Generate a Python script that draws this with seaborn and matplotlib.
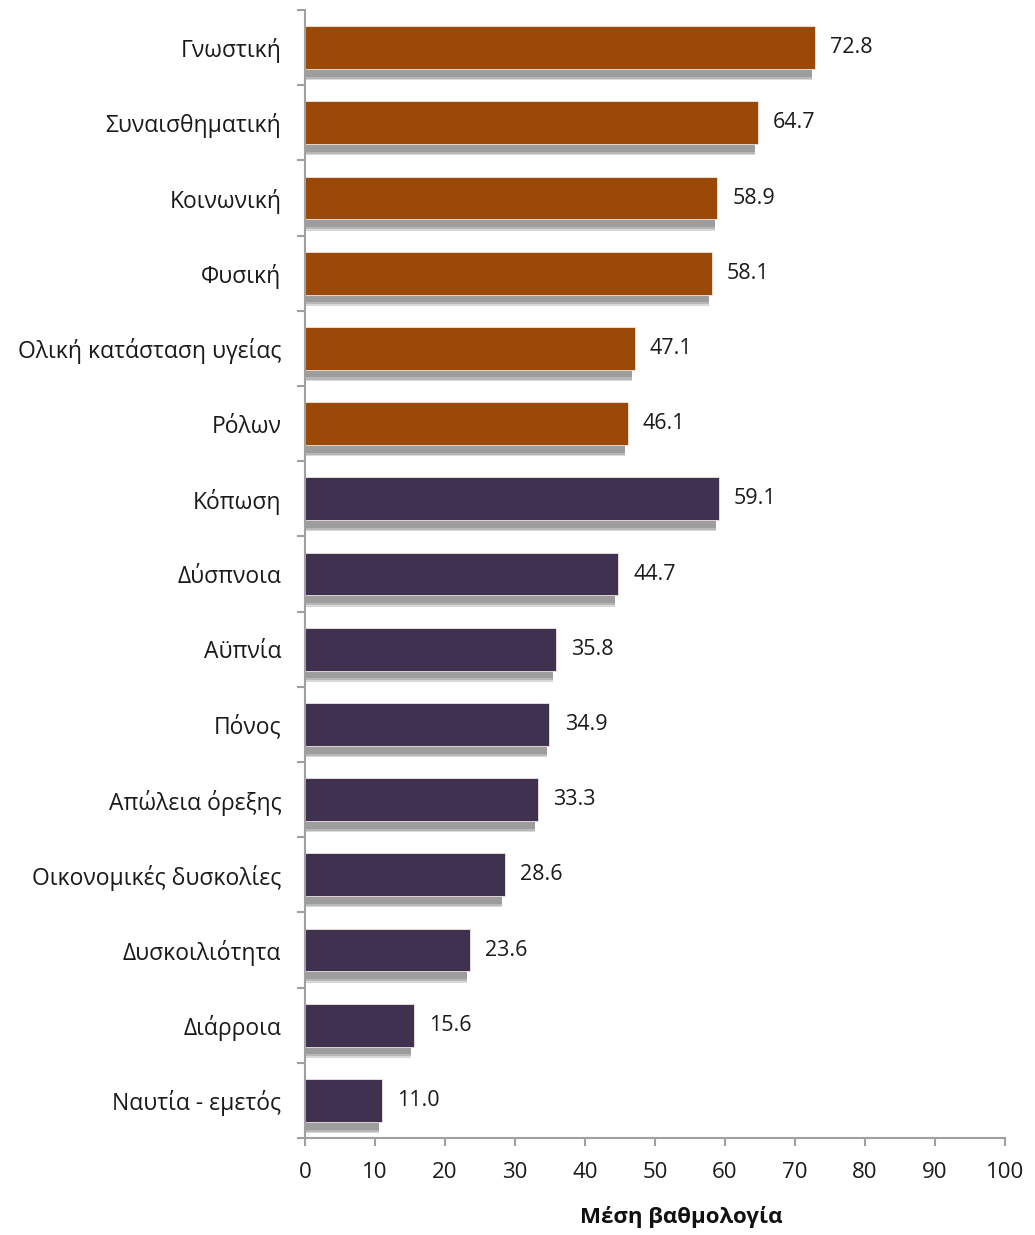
import matplotlib
matplotlib.use("Agg")
import matplotlib.pyplot as plt
import matplotlib.patheffects as pe
import seaborn as sns
import pandas as pd
import numpy as np

categories = ["Γνωστική", "Συναισθηματική", "Κοινωνική", "Φυσική",
              "Ολική κατάσταση υγείας", "Ρόλων", "Κόπωση", "Δύσπνοια",
              "Αϋπνία", "Πόνος", "Απώλεια όρεξης", "Οικονομικές δυσκολίες",
              "Δυσκοιλιότητα", "Διάρροια", "Ναυτία - εμετός"]
values = [72.8, 64.7, 58.9, 58.1, 47.1, 46.1, 59.1, 44.7, 35.8, 34.9,
          33.3, 28.6, 23.6, 15.6, 11.0]
groups = ["func"] * 6 + ["symp"] * 9
xticks = [0, 10, 20, 30, 40, 50, 60, 70, 80, 90, 100]
xlabel = "Μέση βαθμολογία"

df = pd.DataFrame({"cat": categories, "val": values, "grp": groups})

sns.set_style("white")
plt.rcParams["font.family"] = ["Open Sans", "DejaVu Sans"]

fig = plt.figure(figsize=(10.35, 12.35), dpi=100)
ax = fig.add_axes([0.2947, 0.0785, 0.6763, 0.9134])

palette = {"func": "#9A4906", "symp": "#403151"}
sns.barplot(data=df, y="cat", x="val", hue="grp", palette=palette,
            orient="h", dodge=False, width=0.57, legend=False, ax=ax,
            edgecolor="#f2e6e0", linewidth=0.6, saturation=1)

shadow = [pe.SimplePatchShadow(offset=(-2, -8), shadow_rgbFace="#d4d4d4", alpha=0.9),
          pe.SimplePatchShadow(offset=(-2, -7), shadow_rgbFace="#b4b4b4", alpha=0.9),
          pe.SimplePatchShadow(offset=(-2, -5.5), shadow_rgbFace="#9c9c9c", alpha=0.95),
          pe.Normal()]
for p in ax.patches:
    p.set_path_effects(shadow)

for c in ax.containers:
    ax.bar_label(c, fmt="%.1f", padding=11, fontsize=15.5, color="#1a1a1a")

ax.set_xlim(0, 100)
ax.set_ylim(len(categories) - 0.5, -0.5)
ax.set_xticks(xticks)
ax.set_xticklabels([str(t) for t in xticks], fontsize=16, color="#1a1a1a")
ax.set_yticks(np.arange(len(categories)))
ax.set_yticklabels(categories, fontsize=16.5, color="#1a1a1a")
ax.set_yticks(np.arange(-0.5, len(categories)), minor=True)
ax.tick_params(axis="y", which="major", left=True, length=0, pad=17)
ax.tick_params(axis="y", which="minor", left=True, length=6, width=1.5,
               color="#a0a0a0", direction="out")
ax.tick_params(axis="x", which="major", bottom=True, length=6, width=1.5,
               color="#a0a0a0", direction="out", pad=11)
ax.set_ylabel("")
ax.set_xlabel(xlabel, fontsize=16, fontweight="bold", color="#111111")
ax.xaxis.set_label_coords(0.538, -0.060)

for s in ["top", "right"]:
    ax.spines[s].set_visible(False)
for s in ["left", "bottom"]:
    ax.spines[s].set_color("#a0a0a0")
    ax.spines[s].set_linewidth(1.5)

fig.savefig("out.png", dpi=100)
